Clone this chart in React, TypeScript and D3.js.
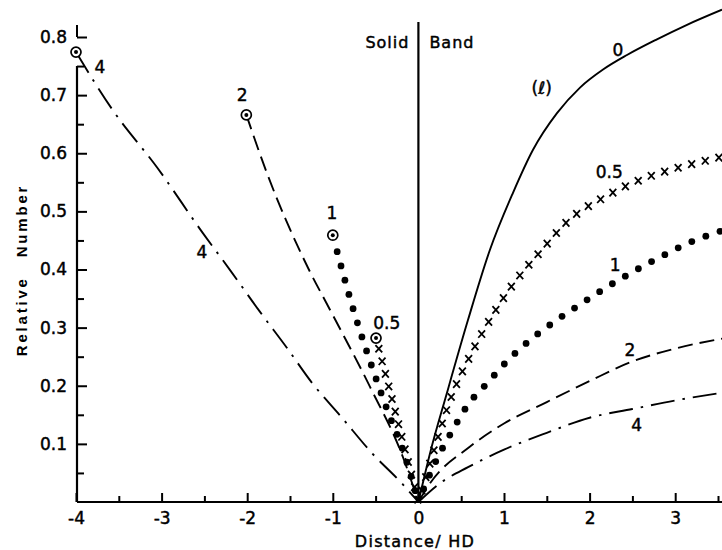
import { useEffect, useRef } from "react";
import * as d3 from "d3";

// distance / HD  vs  relative number
// Band side (x > 0)
const band0 = [
  [0, 0], [0.136, 0.084], [0.334, 0.188], [0.579, 0.313], [0.836, 0.434],
  [1.105, 0.532], [1.339, 0.606], [1.619, 0.669], [1.888, 0.713], [2.157, 0.744],
  [2.437, 0.769], [2.787, 0.796], [3.138, 0.821], [3.547, 0.847],
];
const band05 = [
  [0, 0], [0.194, 0.095], [0.369, 0.175], [0.603, 0.251], [0.825, 0.311],
  [1.093, 0.372], [1.42, 0.43], [1.759, 0.485], [2.18, 0.525], [2.624, 0.556],
  [3.033, 0.575], [3.558, 0.594],
];
const band1 = [
  [0, 0], [0.171, 0.06], [0.393, 0.122], [0.568, 0.165], [0.813, 0.206],
  [1.047, 0.244], [1.315, 0.28], [1.596, 0.311], [1.911, 0.342], [2.227, 0.372],
  [2.542, 0.399], [2.846, 0.423], [3.161, 0.446], [3.55, 0.467],
];
const band2 = [
  [0, 0], [0.14, 0.033], [0.6, 0.095], [1.0, 0.135], [1.5, 0.172],
  [2.0, 0.208], [2.47, 0.24], [3.0, 0.264], [3.55, 0.281],
];
const band4 = [
  [0, 0], [0.26, 0.033], [0.58, 0.06], [1.0, 0.09], [1.5, 0.119],
  [2.0, 0.145], [2.5, 0.16], [3.05, 0.176], [3.55, 0.188],
];

// Solid side (x < 0), first point is the circled end point
const solid4 = [
  [-4, 0.774], [-3.57, 0.674], [-3.05, 0.575], [-2.52, 0.463], [-2.2, 0.399],
  [-1.85, 0.327], [-1.535, 0.265], [-1.243, 0.205], [-0.893, 0.145],
  [-0.542, 0.084], [-0.18, 0.03], [0, 0],
];
const solid2 = [
  [-2.01, 0.666], [-1.77, 0.566], [-1.29, 0.403], [-1.03, 0.33],
  [-0.565, 0.198], [-0.18, 0.077], [0, 0],
];
const solid1 = [
  [-1.0, 0.459], [-0.776, 0.339], [-0.53, 0.227], [-0.355, 0.155],
  [-0.18, 0.089], [0, 0],
];
const solid05 = [[-0.495, 0.282], [-0.215, 0.124], [0, 0]];

const xTicks = [-4, -3, -2, -1, 0, 1, 2, 3];
const xMinor = [-3.5, -2.5, -1.5, -0.5, 0.5, 1.5, 2.5, 3.5];
const yTicks = [0.1, 0.2, 0.3, 0.4, 0.5, 0.6, 0.7, 0.8];
const yMinor = [0.05, 0.15, 0.25, 0.35, 0.45, 0.55, 0.65, 0.75];

// curve labels, in data units
const curveLabels = [
  { t: "4", x: -3.72, y: 0.748 },
  { t: "4", x: -2.53, y: 0.43 },
  { t: "2", x: -2.06, y: 0.7 },
  { t: "1", x: -1.01, y: 0.497 },
  { t: "0.5", x: -0.37, y: 0.308 },
  { t: "0", x: 2.33, y: 0.778 },
  { t: "(ℓ)", x: 1.44, y: 0.712 },
  { t: "0.5", x: 2.23, y: 0.568 },
  { t: "1", x: 2.3, y: 0.408 },
  { t: "2", x: 2.47, y: 0.262 },
  { t: "4", x: 2.55, y: 0.132 },
];

const FONT = "DejaVu Sans, Verdana, sans-serif";

export default function App() {
  const ref = useRef<SVGSVGElement>(null);

  useEffect(() => {
    const svg = d3.select(ref.current);
    svg.selectAll("*").remove();

    const x = d3.scaleLinear().domain([-4, 3.5]).range([76, 718]);
    const y = d3.scaleLinear().domain([0, 0.8]).range([502, 37]);
    const x0 = x(-4) + 1;

    const line = d3
      .line<number[]>()
      .x((d) => x(d[0]))
      .y((d) => y(d[1]))
      .curve(d3.curveMonotoneX);

    const heavy = (sel: any) =>
      sel
        .attr("font-family", FONT)
        .attr("fill", "#000")
        .attr("stroke", "#000")
        .attr("stroke-width", 0.45);

    // axes
    const xa = svg
      .append("g")
      .attr("transform", `translate(0,${y(0)})`)
      .call(
        d3
          .axisBottom(x)
          .tickValues(xTicks)
          .tickSizeInner(-9)
          .tickSizeOuter(0)
          .tickPadding(10)
          .tickFormat((d: any) => (d < 0 ? "-" + Math.abs(d) : String(d)))
      );
    xa.select(".domain").remove();
    xa.selectAll("line").attr("stroke", "#000").attr("stroke-width", 2);
    heavy(xa.selectAll("text")).attr("font-size", 17);

    const xm = svg
      .append("g")
      .attr("transform", `translate(0,${y(0)})`)
      .call(d3.axisBottom(x).tickValues(xMinor).tickSizeInner(-6).tickSizeOuter(0).tickFormat(() => ""));
    xm.select(".domain").remove();
    xm.selectAll("line").attr("stroke", "#000").attr("stroke-width", 2);

    const ya = svg
      .append("g")
      .attr("transform", `translate(${x0},0)`)
      .call(
        d3
          .axisLeft(y)
          .tickValues(yTicks)
          .tickSizeInner(-10)
          .tickSizeOuter(0)
          .tickPadding(10)
          .tickFormat(d3.format(".1f") as any)
      );
    ya.select(".domain").remove();
    ya.selectAll("line").attr("stroke", "#000").attr("stroke-width", 2);
    heavy(ya.selectAll("text")).attr("font-size", 17);

    const ym = svg
      .append("g")
      .attr("transform", `translate(${x0},0)`)
      .call(d3.axisLeft(y).tickValues(yMinor).tickSizeInner(-7).tickSizeOuter(0).tickFormat(() => ""));
    ym.select(".domain").remove();
    ym.selectAll("line").attr("stroke", "#000").attr("stroke-width", 2);

    // axis lines
    svg.append("line")
      .attr("x1", x0).attr("x2", 722).attr("y1", y(0)).attr("y2", y(0))
      .attr("stroke", "#000").attr("stroke-width", 2.2);
    svg.append("line")
      .attr("x1", x0).attr("x2", x0).attr("y1", y(0)).attr("y2", y(0.75))
      .attr("stroke", "#000").attr("stroke-width", 2.2);
    svg.append("line")
      .attr("x1", x0).attr("x2", x0).attr("y1", y(0.8)).attr("y2", y(0.8) - 12)
      .attr("stroke", "#000").attr("stroke-width", 2);
    // solid / band boundary
    svg.append("line")
      .attr("x1", x(0)).attr("x2", x(0)).attr("y1", 22).attr("y2", y(0))
      .attr("stroke", "#000").attr("stroke-width", 2.2);

    heavy(svg.append("text"))
      .attr("x", x(0) - 9).attr("y", 48)
      .attr("text-anchor", "end")
      .attr("font-size", 16).attr("letter-spacing", 1)
      .text("Solid");
    heavy(svg.append("text"))
      .attr("x", x(0) + 11).attr("y", 48)
      .attr("font-size", 16).attr("letter-spacing", 1)
      .text("Band");

    // axis titles
    svg.append("text")
      .attr("transform", `translate(27,270) rotate(-90)`)
      .attr("text-anchor", "middle")
      .attr("font-family", "Liberation Sans, Arial, sans-serif")
      .attr("font-weight", "bold")
      .attr("font-size", 15)
      .attr("letter-spacing", 2.8)
      .attr("word-spacing", 12)
      .text("Relative Number");
    heavy(svg.append("text"))
      .attr("x", 415).attr("y", 547)
      .attr("text-anchor", "middle")
      .attr("font-size", 16).attr("letter-spacing", 1.3)
      .text("Distance/ HD");

    // curves
    const series = [
      { data: band4, kind: "dashdot" },
      { data: band2, kind: "dash" },
      { data: band1, kind: "dots", start: 14, step: 15 },
      { data: band05, kind: "cross", start: 12, step: 14 },
      { data: band0, kind: "solid" },
      { data: solid4, kind: "dashdot", end: true },
      { data: solid2, kind: "dash", end: true },
      { data: solid1, kind: "dots", start: 17, step: 14.8, end: true },
      { data: solid05, kind: "cross", start: 11, step: 13, end: true },
    ];

    const g = svg.append("g");
    series.forEach((s) => {
      const p = g.append("path")
        .attr("d", line(s.data as any))
        .attr("fill", "none")
        .attr("stroke", "#000")
        .attr("stroke-width", 1.9);
      if (s.kind === "dash") p.attr("stroke-dasharray", "15 7");
      if (s.kind === "dashdot") p.attr("stroke-dasharray", "24 8 2.5 8");
      if (s.kind === "dots" || s.kind === "cross") {
        p.attr("stroke", "none");
        const node = p.node() as SVGPathElement;
        const L = node.getTotalLength();
        const pts: { x: number; y: number }[] = [];
        for (let d = s.start as number; d <= L + 0.1; d += s.step as number) {
          const q = node.getPointAtLength(Math.min(d, L));
          pts.push({ x: q.x, y: q.y });
        }
        if (s.kind === "dots") {
          g.append("g").selectAll("circle").data(pts).join("circle")
            .attr("cx", (d) => d.x).attr("cy", (d) => d.y).attr("r", 3.4).attr("fill", "#000");
        } else {
          g.append("g").selectAll("path").data(pts).join("path")
            .attr("d", (d) => `M${d.x - 3.4},${d.y - 3.7}L${d.x + 3.4},${d.y + 3.7}M${d.x + 3.4},${d.y - 3.7}L${d.x - 3.4},${d.y + 3.7}`)
            .attr("stroke", "#000").attr("stroke-width", 1.8).attr("fill", "none");
        }
      }
      if (s.end) {
        const e = s.data[0];
        g.append("circle")
          .attr("cx", x(e[0])).attr("cy", y(e[1])).attr("r", 5)
          .attr("fill", "#fff").attr("stroke", "#000").attr("stroke-width", 1.7);
        g.append("circle")
          .attr("cx", x(e[0])).attr("cy", y(e[1])).attr("r", 2).attr("fill", "#000");
      }
    });

    heavy(svg.append("g").selectAll("text").data(curveLabels).join("text"))
      .attr("x", (d: any) => x(d.x)).attr("y", (d: any) => y(d.y))
      .attr("dy", "0.36em")
      .attr("text-anchor", "middle")
      .attr("font-size", 17)
      .text((d: any) => d.t);
  }, []);

  return (
    <svg
      ref={ref}
      width={722}
      height={550}
      style={{ position: "absolute", left: 0, top: 0, background: "#fff" }}
    />
  );
}
